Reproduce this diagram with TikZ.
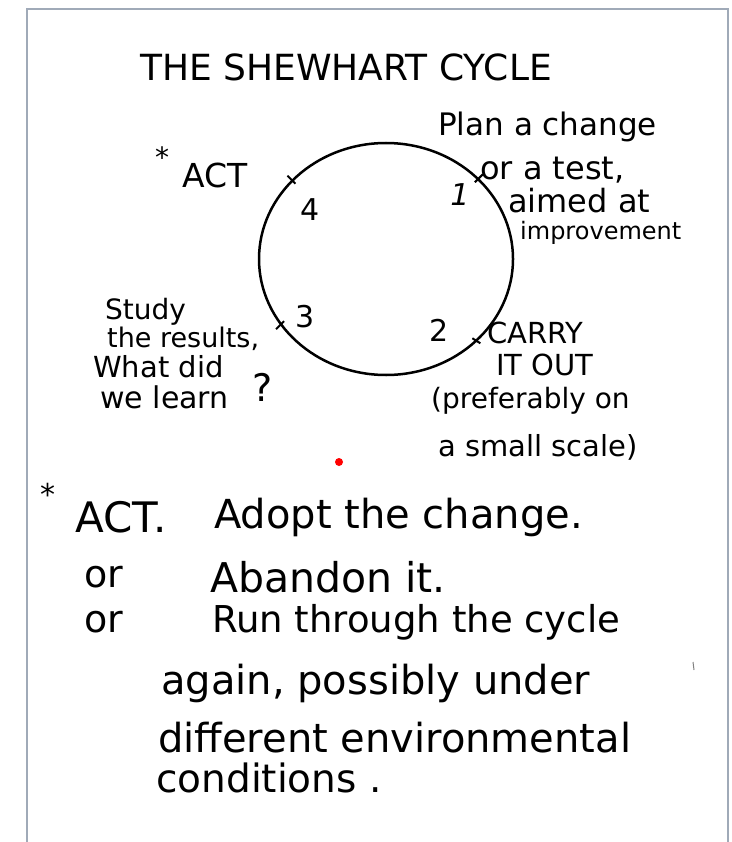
\documentclass[tikz,border=0pt]{standalone}
\usepackage{fontspec}
\setmainfont{DejaVu Sans}
\usepackage{tikz}
\usetikzlibrary{shapes.geometric}

\begin{document}
\begin{tikzpicture}[x=1pt,y=-1pt,
  hand/.style={anchor=west,inner sep=0pt,font=\fontsize{30}{34}\selectfont},
  big/.style={anchor=west,inner sep=0pt,font=\fontsize{38}{42}\selectfont},
  num/.style={inner sep=0pt,font=\fontsize{30}{34}\selectfont}]
\useasboundingbox (0,0) rectangle (731,842);
\draw[line width=2pt,color={rgb,255:red,160;green,170;blue,184}] (27,842) -- (27,9) -- (728,9) -- (728,842);

\node[inner sep=0pt,font=\fontsize{36}{40}\selectfont] (title) at (346,67) {THE SHEWHART CYCLE};

\node[draw,ellipse,line width=2.5pt,minimum width=254pt,minimum height=232pt,inner sep=0pt] (cycle) at (386,259) {};
\draw[line width=2pt] (cycle.140) ++(-4,-4) -- ++(8,8);
\draw[line width=2pt] (cycle.41) ++(4,-4) -- ++(-8,8);
\draw[line width=2pt] (cycle.212) ++(-4,4) -- ++(8,-8);
\draw[line width=2pt] (cycle.318) ++(-5,-3) -- ++(8,5);

\node[num] (n4) at (310,210) {4};
\node[num] (n1) at (460,195) {\itshape 1};
\node[num] (n3) at (305,317) {3};
\node[num] (n2) at (439,330) {2};

\node[hand,font=\fontsize{28}{32}\selectfont] (star1) at (155,157) {*};
\node[hand,font=\fontsize{33}{36}\selectfont] (act) at (182,175) {ACT};

\node[hand,font=\fontsize{31}{34}\selectfont] (plan1) at (438,127) {Plan a change};
\node[hand,font=\fontsize{32}{34}\selectfont] (plan2) at (480,170) {or a test,};
\node[hand,font=\fontsize{32}{34}\selectfont] (plan3) at (508,201) {aimed at};
\node[hand,font=\fontsize{24}{28}\selectfont] (plan4) at (520,233) {improvement};

\node[hand,font=\fontsize{28}{32}\selectfont] (study1) at (105,312) {Study};
\node[hand,font=\fontsize{27}{30}\selectfont] (study2) at (107,339) {the results,};
\node[hand,font=\fontsize{29}{32}\selectfont] (study3) at (93,367) {What did};
\node[hand] (study4) at (100,397) {we learn};
\node[hand,font=\fontsize{38}{42}\selectfont] (quest) at (252,387) {?};

\node[hand,font=\fontsize{29}{32}\selectfont] (carry1) at (487,333) {CARRY};
\node[hand,font=\fontsize{29}{32}\selectfont] (carry2) at (496,365) {IT OUT};
\node[hand,font=\fontsize{28}{32}\selectfont] (carry3) at (431,401) {(preferably on};
\node[hand,font=\fontsize{29}{32}\selectfont] (carry4) at (438,447) {a small scale)};

\fill[red] (339,462) circle (4);

\node[hand] (star2) at (40,494) {*};
\node[big,font=\fontsize{42}{46}\selectfont] (act2) at (75,517) {ACT.};
\node[big,font=\fontsize{40}{44}\selectfont] (adopt) at (214,517) {Adopt the change.};
\node[big] (or1) at (84,577) {or};
\node[big,font=\fontsize{41}{46}\selectfont] (abandon) at (210,577) {Abandon it.};
\node[big] (or2) at (84,622) {or};
\node[big,font=\fontsize{37}{42}\selectfont] (run) at (212,622) {Run through the cycle};
\node[big,font=\fontsize{40}{44}\selectfont] (again) at (161,683) {again, possibly under};
\node[big,font=\fontsize{40}{44}\selectfont] (diff) at (158,738) {different environmental};
\node[big,font=\fontsize{39}{44}\selectfont] (cond) at (156,778) {conditions .};

\draw[line width=1pt,color=gray] (693,662) -- (694,670);
\end{tikzpicture}
\end{document}
